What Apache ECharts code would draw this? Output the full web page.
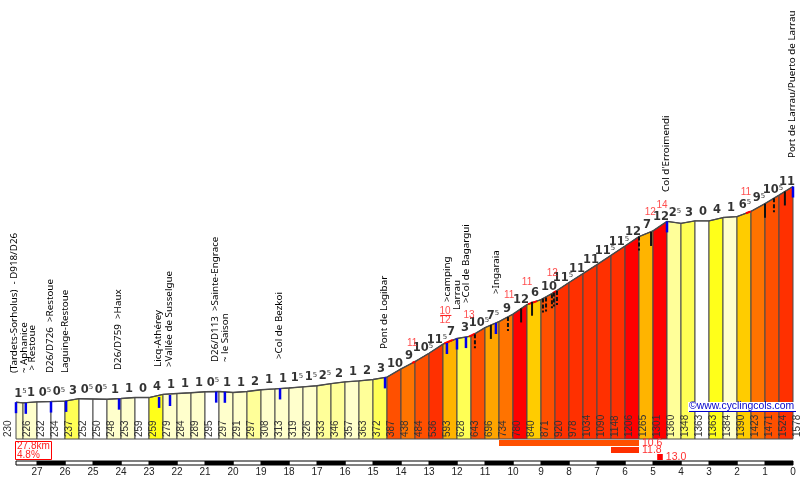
<!DOCTYPE html>
<html>
<head>
<meta charset="utf-8">
<style>html,body{margin:0;padding:0;background:#fff}#chart{width:808px;height:478px}</style>
<script src="https://cdn.jsdelivr.net/npm/echarts@6/dist/echarts.min.js"></script>
</head>
<body>
<div id="chart"></div>
<script>
// profile: km to the summit and elevation at each boundary
var profileKm = [27.75,27.5,27,26.5,26,25.5,25,24.5,24,23.5,23,22.5,22,21.5,21,20.5,20,19.5,19,18.5,18,17.5,17,16.5,16,15.5,15,14.5,14,13.5,13,12.5,12,11.5,11,10.5,10,9.5,9,8.5,8,7.5,7,6.5,6,5.5,5,4.5,4,3.5,3,2.5,2,1.5,1,0.5,0];
var profileElev = [230,226,232,234,237,252,250,248,253,259,259,279,284,289,295,297,291,297,308,313,319,326,333,346,357,363,372,387,438,484,536,593,628,643,696,734,780,840,871,920,978,1034,1090,1148,1206,1265,1301,1360,1348,1363,1363,1384,1390,1423,1471,1524,1578];
var grades = [1.5,1,0.5,0.5,3,0.5,0.5,1,1,0,4,1,1,1,0.5,1,1,2,1,1,1.5,1.5,2.5,2,1,2,3,10,9,10.5,11.5,7,3,10.5,7.5,9,12,6,10,11.5,11,11,11.5,11.5,12,7,12,2.5,3,0,4,1,6.5,9.5,10.5,11];

// places along the road, one entry per printed line
var placeNames = ["(Tardets-Sorholus)  - D918/D26","~ Aphanice"," > Restoue","D26/D726  >Restoue","Laguinge-Restoue","D26/D759  >Haux","Licq-Athérey",">Vallée de Susselgue","D26/D113  >Sainte-Engrace","~ le Saison",">Col de Bezkoi","Pont de Logibar",">camping","Larrau",">Col de Bagargui",">Ingaraia","Col d'Erroimendi","Port de Larrau/Puerto de Larrau"];
var placeKm = [27.82,27.46,27.18,26.54,26,24.1,22.68,22.29,20.64,20.29,18.36,14.61,12.36,12,11.68,10.61,4.54,0.04];
var placeElev = [412,412,412,412,412,431,450,450,481,481,500,562,856,806,850,906,1544,1756];

// steepest bits: numbers in red and the red pieces on the profile
var peakText = ["11","10","12","13","11","11","12","12","14","11"];
var peakKm = [13.6,12.43,12.43,11.57,10.14,9.5,8.6,5.1,4.68,1.68];
var peakElev = [600,800,744,775,900,981,1037,1419,1462,1544];
var redFromKm = [13.6,12.45,11.57,9.46,8.57,1.68];
var redToKm = [13.5,12.15,11.36,9.14,8.46,1.5];
var redFromElev = [475,597,640,843,912,1411];
var redToElev = [484,620,658,862,925,1423];

// junction markers hanging under the road
var blueKm = [27.75,27.4,26.5,25.96,24.07,22.64,22.25,20.6,20.29,18.32,14.57,12.36,12,11.68,10.61,4.5,0];
var blueElev = [230,226,234,238,252,263,275,296,295,316,385,600,628,637,725,1360,1578];
var blackKm = [11.36,10.79,10.18,9.71,9.32,8.93,8.82,8.61,8.54,8.43,5.5,5.07,1,0.68,0.29];
var blackElev = [655,713,762,816,858,878,885,904,915,925,1265,1294,1471,1505,1547];
var blackDashed = [1,0,1,0,0,1,1,1,1,1,1,0,0,1,0];

// steep stretches under the axis
var steepFrom = [10.5,6.5,4.85];
var steepTo = [5.5,5.5,4.65];
var steepPct = ["10.6","11.8","13.0"];

var climbLength = "27.8km";
var climbGrade = "4.8%";
var siteName = "©www.cyclingcols.com";

var LINE = '#4a4a4a';
var FONT = '"Liberation Sans", sans-serif';

function gradeColor(g) {
    if (g < 1) return '#ffffff';
    if (g < 2) return '#ffffcc';
    if (g < 3) return '#ffff99';
    if (g < 4) return '#ffff55';
    if (g < 5) return '#ffff1a';
    if (g < 7) return '#ffcc00';
    if (g < 7.5) return '#ffb400';
    if (g < 9) return '#ffa500';
    if (g < 10) return '#ff7300';
    if (g < 11) return '#ff5000';
    if (g < 12) return '#ff3000';
    return '#ff0000';
}
function gradeLabel(g) {
    var whole = Math.floor(g);
    return g > whole ? '{n|' + whole + '}{s|5}' : '{n|' + whole + '}';
}

var segments = [], gradeMarks = [], elevMarks = [], placeMarks = [], peakMarks = [], redLines = [], ticks = [], scaleBar = [], steepBars = [];
for (var i = 0; i < grades.length; i++) {
    segments.push([profileKm[i], profileKm[i + 1], profileElev[i], profileElev[i + 1], grades[i]]);
    gradeMarks.push([(profileKm[i] + profileKm[i + 1]) / 2, (profileElev[i] + profileElev[i + 1]) / 2, grades[i]]);
}
for (i = 0; i < profileKm.length; i++) elevMarks.push([profileKm[i], 0, profileElev[i], i]);
for (i = 0; i < placeNames.length; i++) placeMarks.push([placeKm[i], placeElev[i], placeNames[i]]);
for (i = 0; i < peakText.length; i++) peakMarks.push([peakKm[i], peakElev[i], peakText[i]]);
for (i = 0; i < redFromKm.length; i++) redLines.push([redFromKm[i], redToKm[i], redFromElev[i], redToElev[i]]);
for (i = 0; i < blueKm.length; i++) ticks.push([blueKm[i], blueElev[i], 0, 0]);
for (i = 0; i < blackKm.length; i++) ticks.push([blackKm[i], blackElev[i], 1, blackDashed[i]]);
for (i = 0; i < 28; i++) scaleBar.push([Math.min(i + 1, 27.75), i, (i % 2 === 0) ? 1 : 0]);
for (i = 0; i < steepFrom.length; i++) steepBars.push([steepFrom[i], steepTo[i], i, steepPct[i]]);

function rotatedText(api, text, p, color, font) {
    return {type: 'text', x: p[0], y: p[1], rotation: Math.PI / 2, style: {text: text, fill: color, font: font, align: 'left', verticalAlign: 'middle'}};
}

var option = {
    animation: false,
    backgroundColor: '#fff',
    grid: [
        {left: 14.6, right: 15, top: 39, height: 400},
        {left: 14.6, right: 15, top: 439, height: 26}
    ],
    xAxis: [
        {gridIndex: 0, type: 'value', inverse: true, min: 0, max: 27.8, show: false},
        {gridIndex: 1, type: 'value', inverse: true, min: 0, max: 27.8, interval: 1, splitLine: {show: false},
            axisLine: {show: false}, axisTick: {show: false},
            axisLabel: {show: true, margin: 2, showMaxLabel: false, color: '#222', fontSize: 10, fontFamily: FONT, hideOverlap: false,
                formatter: function (v) { return v === Math.floor(v) ? String(v) : ''; }}}
    ],
    yAxis: [
        {gridIndex: 0, type: 'value', min: 0, max: 2500, show: false},
        {gridIndex: 1, type: 'value', min: 0, max: 26, inverse: true, show: false}
    ],
    graphic: [
        {type: 'rect', z: 50, shape: {x: 15.5, y: 441.5, width: 36, height: 18}, style: {fill: '#fff', stroke: '#ff0000', lineWidth: 1}},
        {type: 'text', z: 51, x: 17, y: 446, style: {text: climbLength, fill: '#ff2020', font: '10px ' + FONT, verticalAlign: 'middle'}},
        {type: 'text', z: 51, x: 17, y: 455, style: {text: climbGrade, fill: '#ff2020', font: '10px ' + FONT, verticalAlign: 'middle'}},
        {type: 'rect', z: 50, shape: {x: 688, y: 402, width: 108, height: 10}, style: {fill: '#fff'}},
        {type: 'text', z: 51, x: 689, y: 406.5, style: {text: siteName, fill: '#0000cc', font: '10.4px ' + FONT, verticalAlign: 'middle'}},
        {type: 'line', z: 51, shape: {x1: 689, y1: 411.5, x2: 796, y2: 411.5}, style: {stroke: '#0000cc', lineWidth: 1}}
    ],
    series: [
        {
            type: 'custom', name: 'profile', xAxisIndex: 0, yAxisIndex: 0, z: 2, silent: true,
            encode: {x: [0, 1], y: [2, 3]},
            data: segments,
            renderItem: function (params, api) {
                var a = api.coord([api.value(0), 0]), b = api.coord([api.value(1), 0]);
                var c = api.coord([api.value(1), api.value(3)]), d = api.coord([api.value(0), api.value(2)]);
                return {type: 'polygon', shape: {points: [a, b, c, d]}, style: {fill: gradeColor(api.value(4)), stroke: LINE, lineWidth: 1}};
            }
        },
        {
            type: 'line', name: 'outline', xAxisIndex: 0, yAxisIndex: 0, z: 3, silent: true, symbol: 'none',
            lineStyle: {color: LINE, width: 1.4},
            data: profileKm.map(function (k, n) { return [k, profileElev[n]]; })
        },
        {
            type: 'custom', name: 'red pieces', xAxisIndex: 0, yAxisIndex: 0, z: 4, silent: true,
            encode: {x: [0, 1], y: [2, 3]},
            data: redLines,
            renderItem: function (params, api) {
                var a = api.coord([api.value(0), api.value(2)]), b = api.coord([api.value(1), api.value(3)]);
                return {type: 'line', shape: {x1: a[0], y1: a[1], x2: b[0], y2: b[1]}, style: {stroke: '#ff0000', lineWidth: 2}};
            }
        },
        {
            type: 'line', name: 'fraction rule', xAxisIndex: 0, yAxisIndex: 0, z: 5, silent: true, symbol: 'none',
            lineStyle: {color: '#ff2020', width: 1},
            data: [[12.6, 772], [12.2, 772]]
        },
        {
            type: 'custom', name: 'ticks', xAxisIndex: 0, yAxisIndex: 0, z: 5, silent: true,
            encode: {x: 0, y: 1},
            data: ticks,
            renderItem: function (params, api) {
                var p = api.coord([api.value(0), api.value(1)]), black = api.value(2) === 1;
                return {type: 'line', shape: {x1: p[0], y1: p[1], x2: p[0], y2: p[1] + (black ? 14 : 11)},
                    style: {stroke: black ? '#111' : '#0000ee', lineWidth: black ? 2 : 2.5, lineDash: api.value(3) === 1 ? [4, 2] : null}};
            }
        },
        {
            type: 'scatter', name: 'grades', xAxisIndex: 0, yAxisIndex: 0, z: 6, silent: true, symbolSize: 0,
            data: gradeMarks,
            label: {
                show: true, position: 'top', distance: 3, offset: [1, 0],
                formatter: function (p) { return gradeLabel(p.value[2]); },
                rich: {
                    n: {fontFamily: '"DejaVu Sans", sans-serif', fontWeight: 'bold', fontSize: 11.5, color: '#000'},
                    s: {fontFamily: '"DejaVu Sans", sans-serif', fontSize: 7, color: '#000', verticalAlign: 'top', padding: [0, 0, 4, 0]}
                }
            }
        },
        {
            type: 'custom', name: 'elevations', xAxisIndex: 0, yAxisIndex: 0, z: 6, silent: true,
            encode: {x: 0, y: 1},
            data: elevMarks,
            renderItem: function (params, api) {
                var p = api.coord([api.value(0), 0]);
                var dx = api.value(3) === 0 ? -8 : 4.5;
                return rotatedText(api, String(api.value(2)), [p[0] + dx, p[1] - 2], '#333', '10px ' + FONT);
            }
        },
        {
            type: 'custom', name: 'places', xAxisIndex: 0, yAxisIndex: 0, z: 7, silent: true,
            encode: {x: 0, y: 1},
            data: placeMarks.map(function (d) { return [d[0], d[1]]; }),
            renderItem: function (params, api) {
                var p = api.coord([api.value(0), api.value(1)]);
                return rotatedText(api, placeMarks[params.dataIndex][2], p, '#000', '9.8px "Noto Sans", sans-serif');
            }
        },
        {
            type: 'scatter', name: 'peaks', xAxisIndex: 0, yAxisIndex: 0, z: 7, silent: true, symbolSize: 0,
            data: peakMarks,
            label: {
                show: true, position: 'inside', color: '#ff2020', fontSize: 10, fontFamily: FONT,
                formatter: function (p) { return p.value[2]; }
            }
        },
        {
            type: 'custom', name: 'steep bars', xAxisIndex: 1, yAxisIndex: 1, z: 4, silent: true,
            encode: {x: [0, 1], y: 2},
            data: steepBars.map(function (d) { return [d[0], d[1], d[2]]; }),
            renderItem: function (params, api) {
                var row = api.value(2), pct = steepPct[row];
                var a = api.coord([api.value(0), 1 + row * 7]), b = api.coord([api.value(1), 7 + row * 7]);
                return {type: 'group', children: [
                    {type: 'rect', shape: {x: a[0], y: a[1], width: b[0] - a[0], height: b[1] - a[1]}, style: {fill: gradeColor(parseFloat(pct))}},
                    {type: 'text', x: b[0] + 3, y: (a[1] + b[1]) / 2, style: {text: pct, fill: '#ff3030', font: '10.5px ' + FONT, verticalAlign: 'middle'}}
                ]};
            }
        },
        {
            type: 'custom', name: 'km scale', xAxisIndex: 1, yAxisIndex: 1, z: 4, silent: true,
            encode: {x: [0, 1]},
            data: scaleBar,
            renderItem: function (params, api) {
                var a = api.coord([api.value(0), 22]), b = api.coord([api.value(1), 26]);
                return {type: 'rect', shape: {x: a[0], y: a[1], width: b[0] - a[0], height: b[1] - a[1]},
                    style: {fill: api.value(2) === 0 ? '#fff' : '#000', stroke: '#000', lineWidth: 1}};
            }
        }
    ]
};

var myChart = echarts.init(document.getElementById('chart'));
myChart.setOption(option);
</script>
</body>
</html>
